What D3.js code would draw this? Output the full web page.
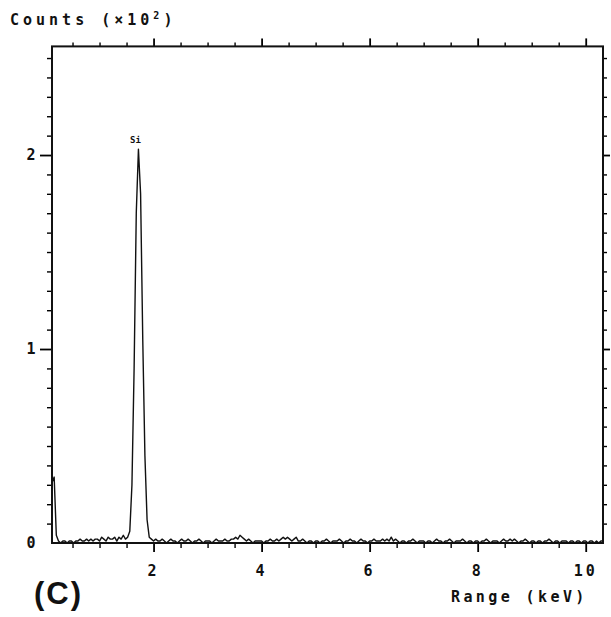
<!DOCTYPE html>
<html>
<head>
<meta charset="utf-8">
<script src="https://cdn.jsdelivr.net/npm/d3@7"></script>
<style>
  body { margin: 0; background: #fff; }
  text { font-family: "DejaVu Sans Mono", monospace; font-weight: bold; fill: #111; }
</style>
</head>
<body>
<div id="chart"></div>
<script>
// EDS spectrum, counts in units of 10^2, channels 0.04 keV wide starting at 0.12 keV
const channelStart = 0.12;
const channelWidth = 0.04;
const counts = [
  // 0.12 - 0.96 keV
  0.31, 0.34, 0.04, 0.01, 0.00, 0.01, 0.01, 0.00, 0.01, 0.01, 0.00, 0.01, 0.01, 0.02, 0.01, 0.01, 0.02, 0.01, 0.02, 0.01, 0.02, 0.02,
  // 1.00 - 1.96
  0.01, 0.03, 0.02, 0.01, 0.03, 0.02, 0.02, 0.03, 0.01, 0.03, 0.02, 0.04, 0.02, 0.03, 0.06, 0.30, 0.90, 1.70, 2.03, 1.80, 1.05, 0.45, 0.12, 0.03, 0.02,
  // 2.00 - 2.96
  0.01, 0.02, 0.01, 0.01, 0.02, 0.01, 0.00, 0.01, 0.02, 0.01, 0.01, 0.00, 0.01, 0.02, 0.01, 0.01, 0.02, 0.01, 0.00, 0.01, 0.01, 0.02, 0.01, 0.00, 0.01,
  // 3.00 - 3.96
  0.01, 0.01, 0.00, 0.01, 0.02, 0.01, 0.01, 0.01, 0.02, 0.01, 0.01, 0.02, 0.02, 0.03, 0.02, 0.04, 0.03, 0.02, 0.01, 0.02, 0.01, 0.00, 0.01, 0.01, 0.01,
  // 4.00 - 4.96
  0.01, 0.00, 0.01, 0.01, 0.02, 0.01, 0.01, 0.02, 0.01, 0.02, 0.03, 0.02, 0.03, 0.02, 0.01, 0.02, 0.03, 0.01, 0.01, 0.02, 0.01, 0.00, 0.01, 0.01, 0.00,
  // 5.00 - 5.96
  0.01, 0.01, 0.00, 0.01, 0.01, 0.02, 0.01, 0.00, 0.01, 0.01, 0.01, 0.02, 0.01, 0.00, 0.01, 0.01, 0.02, 0.01, 0.01, 0.00, 0.01, 0.02, 0.01, 0.01, 0.00,
  // 6.00 - 6.96
  0.01, 0.01, 0.02, 0.01, 0.01, 0.01, 0.02, 0.01, 0.02, 0.01, 0.03, 0.01, 0.02, 0.01, 0.00, 0.01, 0.01, 0.00, 0.01, 0.01, 0.02, 0.01, 0.00, 0.01, 0.01,
  // 7.00 - 7.96
  0.01, 0.00, 0.01, 0.01, 0.00, 0.01, 0.02, 0.01, 0.01, 0.00, 0.01, 0.01, 0.02, 0.01, 0.00, 0.01, 0.01, 0.01, 0.02, 0.01, 0.00, 0.01, 0.01, 0.00, 0.01,
  // 8.00 - 8.96
  0.01, 0.00, 0.01, 0.01, 0.02, 0.01, 0.00, 0.01, 0.01, 0.01, 0.00, 0.01, 0.02, 0.01, 0.01, 0.02, 0.01, 0.02, 0.01, 0.00, 0.01, 0.01, 0.02, 0.01, 0.00,
  // 9.00 - 9.96
  0.01, 0.01, 0.00, 0.01, 0.01, 0.00, 0.01, 0.01, 0.02, 0.01, 0.00, 0.01, 0.01, 0.00, 0.01, 0.01, 0.01, 0.00, 0.01, 0.01, 0.00, 0.01, 0.01, 0.00, 0.01,
  // 10.00 - 10.32
  0.01, 0.00, 0.01, 0.01, 0.00, 0.01, 0.00, 0.01, 0.01
];

const xTickValues = [2, 4, 6, 8, 10];
const yTickValues = [0, 1, 2];
const peakLabels = [{name: "Si", energy: 1.72, count: 2.03}];

const width = 611, height = 617;
const plot = {left: 52, right: 603, top: 46.4, bottom: 543};

const svg = d3.select("#chart")
    .append("svg")
    .attr("width", width)
    .attr("height", height);

// scales
const x = d3.scaleLinear()
    .domain([0.12, 10.32])
    .range([plot.left, plot.right]);

const y = d3.scaleLinear()
    .domain([0, 2.56])
    .range([plot.bottom, plot.top]);

const xMinor = d3.range(0.5, 10.3, 0.5);
const yMinor = d3.range(0.1, 2.56, 0.1);
const isMajorX = v => Math.abs(v - Math.round(v)) < 1e-6 && Math.round(v) % 2 === 0;
const isMajorY = v => Math.abs(v - Math.round(v)) < 1e-6;

// bottom axis
svg.append("g")
    .attr("transform", "translate(0," + plot.bottom + ")")
    .call(d3.axisBottom(x).tickValues(xMinor).tickSizeOuter(0).tickFormat(""))
    .call(g => g.select(".domain").remove())
    .call(g => g.selectAll(".tick line")
        .attr("y2", d => isMajorX(d) ? 9 : 5)
        .attr("stroke-width", d => isMajorX(d) ? 1.8 : 1.4));

// top axis
svg.append("g")
    .attr("transform", "translate(0," + plot.top + ")")
    .call(d3.axisTop(x).tickValues(xMinor).tickSizeOuter(0).tickFormat(""))
    .call(g => g.select(".domain").remove())
    .call(g => g.selectAll(".tick line")
        .attr("y2", d => isMajorX(d) ? -8 : -4)
        .attr("stroke-width", d => isMajorX(d) ? 1.8 : 1.4));

// left axis
svg.append("g")
    .attr("transform", "translate(" + plot.left + ",0)")
    .call(d3.axisLeft(y).tickValues(yMinor).tickSizeOuter(0).tickFormat(""))
    .call(g => g.select(".domain").remove())
    .call(g => g.selectAll(".tick line")
        .attr("x2", d => isMajorY(d) ? -12 : -5)
        .attr("stroke-width", d => isMajorY(d) ? 1.8 : 1.4));

// right axis
svg.append("g")
    .attr("transform", "translate(" + plot.right + ",0)")
    .call(d3.axisRight(y).tickValues(yMinor).tickSizeOuter(0).tickFormat(""))
    .call(g => g.select(".domain").remove())
    .call(g => g.selectAll(".tick line")
        .attr("x2", d => isMajorY(d) ? 7 : 4)
        .attr("stroke-width", d => isMajorY(d) ? 1.8 : 1.4));

// frame
svg.append("rect")
    .attr("x", plot.left)
    .attr("y", plot.top)
    .attr("width", plot.right - plot.left)
    .attr("height", plot.bottom - plot.top)
    .attr("fill", "none")
    .attr("stroke", "#111")
    .attr("stroke-width", 2);

// tick labels
svg.selectAll(".xlabel")
    .data(xTickValues)
    .enter()
    .append("text")
    .attr("class", "xlabel")
    .attr("x", d => x(d))
    .attr("y", 576)
    .attr("text-anchor", "middle")
    .style("font-size", "15px")
    .style("letter-spacing", "3px")
    .text(d => d);

svg.selectAll(".ylabel")
    .data(yTickValues)
    .enter()
    .append("text")
    .attr("class", "ylabel")
    .attr("x", 31)
    .attr("y", d => y(d) + 5)
    .attr("text-anchor", "middle")
    .style("font-size", "15px")
    .text(d => d);

// spectrum
const line = d3.line()
    .x((d, i) => x(channelStart + channelWidth * i))
    .y(d => y(d));

svg.append("path")
    .datum(counts)
    .attr("d", line)
    .attr("fill", "none")
    .attr("stroke", "#111")
    .attr("stroke-width", 1.4)
    .attr("stroke-linejoin", "round");

// peak label
svg.selectAll(".peak")
    .data(peakLabels)
    .enter()
    .append("text")
    .attr("class", "peak")
    .attr("x", d => x(d.energy) - 3)
    .attr("y", d => y(d.count) - 6)
    .attr("text-anchor", "middle")
    .style("font-size", "9px")
    .text(d => d.name);

// axis titles
const title = svg.append("text")
    .attr("x", 10)
    .attr("y", 25)
    .style("font-size", "15px")
    .style("letter-spacing", "4px");
title.append("tspan").text("Counts (×10");
title.append("tspan").attr("dy", -6).style("font-size", "10px").text("2");
title.append("tspan").attr("dy", 6).text(")");

svg.append("text")
    .attr("x", 451)
    .attr("y", 602)
    .style("font-size", "15px")
    .style("letter-spacing", "3.4px")
    .text("Range (keV)");

// panel tag
svg.append("text")
    .attr("x", 34)
    .attr("y", 604)
    .style("font-family", "'Liberation Sans', Arial, sans-serif")
    .style("font-size", "31px")
    .style("letter-spacing", "2px")
    .text("(C)");
</script>
</body>
</html>
